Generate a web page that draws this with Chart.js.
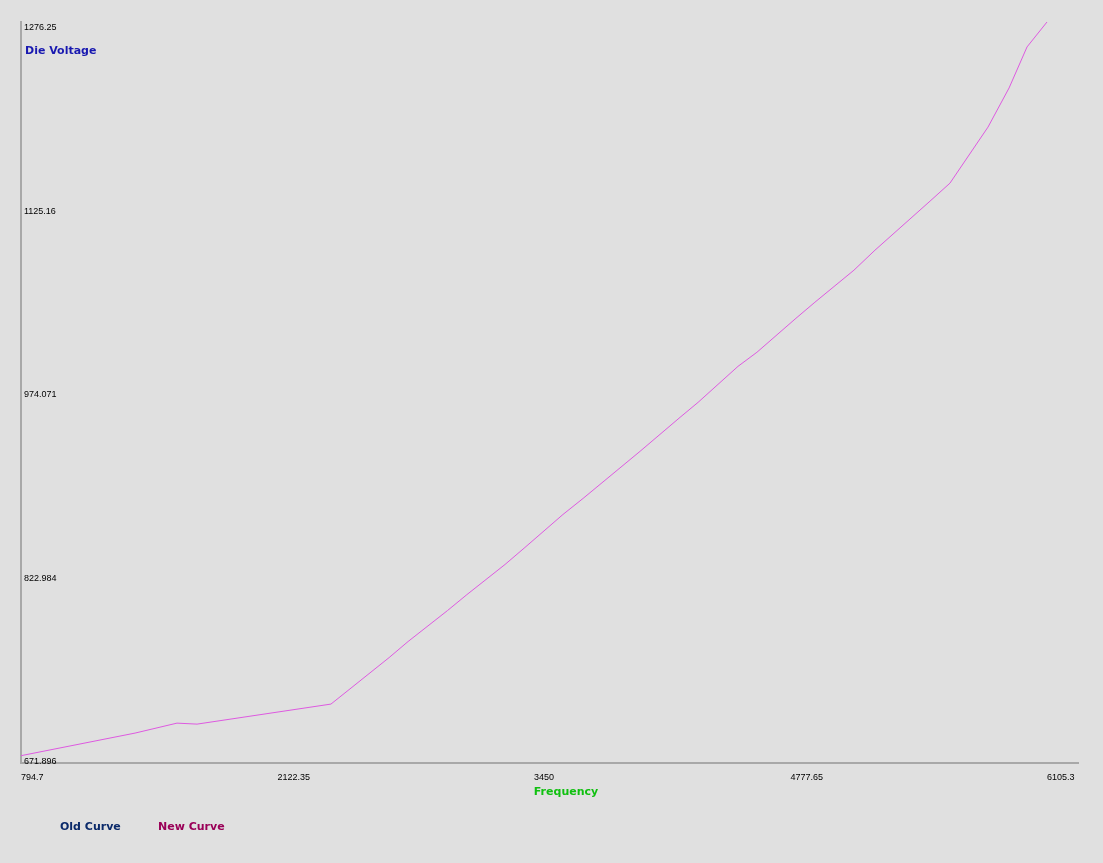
<!DOCTYPE html>
<html>
<head>
<meta charset="utf-8">
<script src="https://cdn.jsdelivr.net/npm/chart.js@4/dist/chart.umd.min.js"></script>
<style>
  html, body { margin: 0; padding: 0; background: #e0e0e0; }
  #wrap { width: 1103px; height: 863px; position: relative; }
</style>
</head>
<body>
<div id="wrap"><canvas id="grafico"></canvas></div>
<script>
// dados (MHz / mV)
const frequencias = [794.7, 1385, 1602, 1706, 2399, 2503, 2700, 2798, 3002, 3103, 3300, 3403, 3600, 3704, 3999, 4206, 4299, 4506, 4604, 4806, 4904, 5106, 5215, 5500, 5603, 5800, 5909, 6002, 6105.3];
const tensoes = [671.896, 690.5, 698.7, 697.9, 714.4, 727.6, 752.7, 765.9, 791.4, 804.6, 829.4, 843.4, 870.6, 883.8, 922.6, 950.6, 962.9, 992.6, 1004.2, 1032.2, 1045.4, 1071.8, 1088.3, 1128.7, 1143.5, 1189.7, 1221.9, 1255.7, 1276.25];
const curvaAntiga = []; // "Old Curve" sem pontos

const ticksX = [794.7, 2122.35, 3450, 4777.65, 6105.3];
const rotulosX = ['794.7', '2122.35', '3450', '4777.65', '6105.3'];
const ticksY = [671.896, 822.984, 974.071, 1125.16, 1276.25];
const rotulosY = ['671.896', '822.984', '974.071', '1125.16', '1276.25'];

const nomesSeries = ['Old Curve', 'New Curve'];
const coresLegenda = ['#0b2a6a', '#9a0058'];

// textos desenhados dentro/abaixo do gráfico
const textosExtras = {
    id: 'textosExtras',
    afterDraw(chart) {
        const { ctx, chartArea } = chart;
        ctx.save();
        ctx.textBaseline = 'middle';
        ctx.textAlign = 'left';
        ctx.font = 'bold 11px "DejaVu Sans"';
        ctx.fillStyle = '#1818b0';
        ctx.fillText('Die Voltage', chartArea.left + 4, chartArea.top + 29);

        ctx.fillStyle = '#10c010';
        ctx.textAlign = 'center';
        ctx.fillText('Frequency', 566, chartArea.bottom + 29);

        // legenda
        ctx.textAlign = 'left';
        const posLegenda = [60, 158];
        nomesSeries.forEach((nome, i) => {
            ctx.fillStyle = coresLegenda[i];
            ctx.fillText(nome, posLegenda[i], chartArea.bottom + 64);
        });
        ctx.restore();
    }
};

const pontos = frequencias.map((f, i) => ({ x: f, y: tensoes[i] }));

new Chart(document.getElementById('grafico'), {
    type: 'scatter',
    data: {
        datasets: [
            { label: nomesSeries[0], data: curvaAntiga, showLine: true, borderColor: '#1a3a8a', borderWidth: 1, pointRadius: 0 },
            { label: nomesSeries[1], data: pontos, showLine: true, borderColor: '#dd5ae0', borderWidth: 1, pointRadius: 0, tension: 0 }
        ]
    },
    options: {
        responsive: true,
        maintainAspectRatio: false,
        animation: false,
        layout: { padding: { top: 22, left: 15, right: 25, bottom: 71 } },
        plugins: { legend: { display: false }, tooltip: { enabled: false } },
        scales: {
            x: {
                type: 'linear',
                min: 794.7,
                max: 6265.8,
                grid: { display: false, drawTicks: false },
                border: { display: true, color: '#a8a8a8', width: 2 },
                afterBuildTicks: scale => { scale.ticks = ticksX.map(v => ({ value: v })); },
                ticks: {
                    autoSkip: false,
                    maxRotation: 0,
                    align: 'start',
                    padding: 9,
                    color: '#000',
                    font: { family: '"Liberation Sans"', size: 9 },
                    callback: (v, i) => rotulosX[i]
                }
            },
            y: {
                type: 'linear',
                min: 665.7,
                max: 1276.25,
                grid: { display: false, drawTicks: false },
                border: { display: true, color: '#a8a8a8', width: 2 },
                afterBuildTicks: scale => { scale.ticks = ticksY.map(v => ({ value: v })); },
                ticks: {
                    autoSkip: false,
                    mirror: true,
                    padding: 3,
                    labelOffset: 6,
                    color: '#000',
                    font: { family: '"Liberation Sans"', size: 9 },
                    callback: (v, i) => rotulosY[i]
                }
            }
        }
    },
    plugins: [textosExtras]
});
</script>
</body>
</html>
